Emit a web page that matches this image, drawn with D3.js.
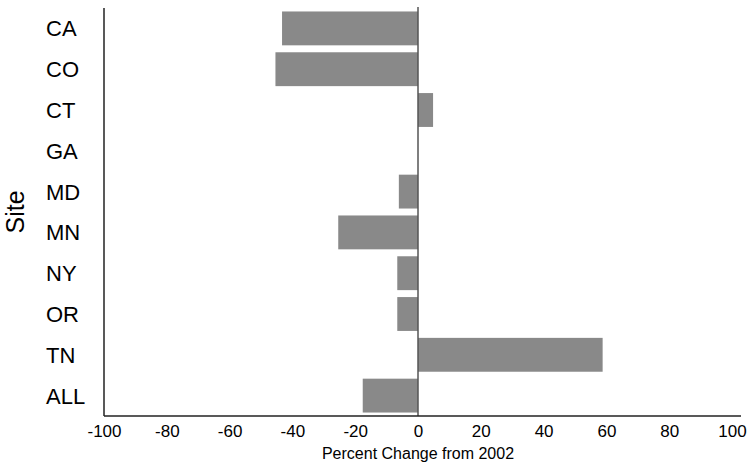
<!DOCTYPE html>
<html>
<head>
<meta charset="utf-8">
<script src="https://cdn.jsdelivr.net/npm/d3@7"></script>
<style>
  html, body { margin: 0; padding: 0; background: #fff; }
  svg { display: block; font-family: "Liberation Sans", Arial, sans-serif; }
</style>
</head>
<body>
<svg id="chart" width="749" height="468"></svg>
<script>
const sites = ["CA", "CO", "CT", "GA", "MD", "MN", "NY", "OR", "TN", "ALL"];
const pctChange = [-43.3, -45.4, 4.8, 0, -6.1, -25.4, -6.6, -6.6, 58.8, -17.6];
const xTicks = [-100, -80, -60, -40, -20, 0, 20, 40, 60, 80, 100];
const xTitle = "Percent Change from 2002";
const yTitle = "Site";

const svg = d3.select("#chart");
const plot = { left: 104, right: 732, top: 8, bottom: 416, axisEnd: 741 };

const x = d3.scaleLinear().domain([-100, 100]).range([plot.left, plot.right]);
const y = d3.scaleBand().domain(sites).range([plot.top, plot.bottom])
  .paddingInner(0.17).paddingOuter(0.085);

const data = sites.map((s, i) => ({ site: s, v: pctChange[i] }));

// bars
svg.append("g").selectAll("rect").data(data).join("rect")
  .attr("x", d => x(Math.min(0, d.v)))
  .attr("width", d => Math.abs(x(d.v) - x(0)))
  .attr("y", d => y(d.site))
  .attr("height", y.bandwidth())
  .attr("fill", "#898989");

// zero line
svg.append("line")
  .attr("x1", x(0)).attr("x2", x(0))
  .attr("y1", plot.top - 1).attr("y2", plot.bottom)
  .attr("stroke", "#555").attr("stroke-width", 1.5);

// x axis (labels only, no ticks)
const xAxis = d3.axisBottom(x).tickValues(xTicks).tickSize(0).tickPadding(0)
  .tickFormat(d => String(d));
const gx = svg.append("g").attr("transform", `translate(0,${plot.bottom})`).call(xAxis);
gx.select(".domain").remove();
gx.selectAll("text")
  .attr("dy", null)
  .attr("y", 21)
  .attr("fill", "#000")
  .style("font-size", "17px")
  .style("font-family", "'Liberation Sans', Arial, sans-serif");

// axis lines
svg.append("line")
  .attr("x1", plot.left).attr("x2", plot.axisEnd)
  .attr("y1", plot.bottom).attr("y2", plot.bottom)
  .attr("stroke", "#222").attr("stroke-width", 1.5);
svg.append("line")
  .attr("x1", plot.left).attr("x2", plot.left)
  .attr("y1", plot.top).attr("y2", plot.bottom)
  .attr("stroke", "#222").attr("stroke-width", 1.5);

// y category labels
svg.append("g").selectAll("text").data(sites).join("text")
  .attr("x", 46)
  .attr("y", d => y(d) + y.bandwidth() / 2 + 8)
  .attr("font-size", 22)
  .attr("fill", "#000")
  .text(d => d);

// titles
svg.append("text")
  .attr("x", x(0)).attr("y", 459)
  .attr("text-anchor", "middle")
  .attr("font-size", 16)
  .text(xTitle);

svg.append("text")
  .attr("transform", `translate(24,${(plot.top + plot.bottom) / 2}) rotate(-90)`)
  .attr("text-anchor", "middle")
  .attr("font-size", 25)
  .text(yTitle);
</script>
</body>
</html>
